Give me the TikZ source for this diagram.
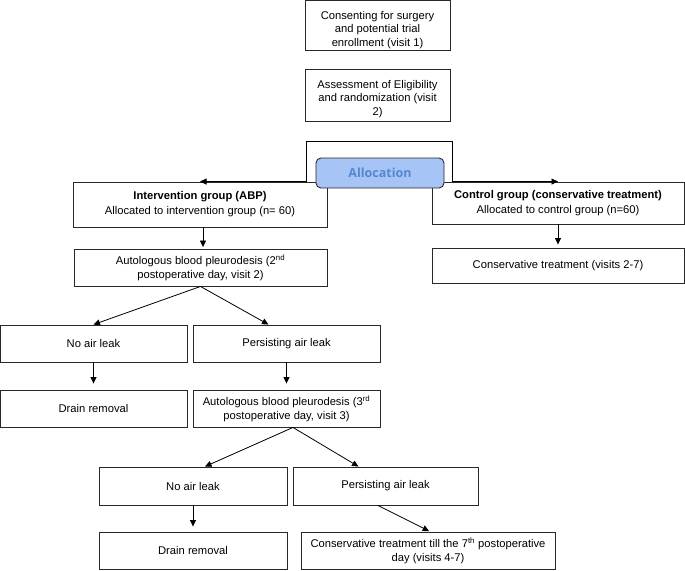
\documentclass[tikz,border=0pt]{standalone}
\usepackage{fontspec}
\setmainfont{Liberation Sans}
\newfontfamily\allocfont{Open Sans}
\usetikzlibrary{arrows.meta,positioning}
\definecolor{allocfill}{RGB}{166,196,245}
\definecolor{alloctext}{RGB}{85,135,208}
\definecolor{edgecol}{RGB}{40,40,40}
\tikzset{
  boxfont/.style={inner sep=0pt, align=center, font=\fontsize{11.2}{13.7}\selectfont},
  box/.style={draw=edgecol, line width=0.9pt, rectangle, boxfont},
  arr/.style={draw=black, line width=0.8pt, -{Triangle[length=6.5pt,width=6pt]}},
  arrboth/.style={draw=black, line width=0.8pt, {Triangle[length=6.5pt,width=6pt]}-{Triangle[length=6.5pt,width=6pt]}},
  allocbox/.style={draw=edgecol, line width=0.9pt, fill=allocfill, rounded corners=5pt,
    inner sep=0pt, text=alloctext, font=\allocfont\bfseries\fontsize{12.5}{14}\selectfont}
}
\begin{document}
\begin{tikzpicture}[x=1pt,y=-1pt]
\useasboundingbox (0,0) rectangle (685,570);

\node[box, minimum width=145pt, minimum height=50pt,
  label={[boxfont, name=b1text, yshift=-4.5pt]center:{Consenting for surgery\\and potential trial\\enrollment (visit 1)}}]
  (b1) at (377.5,25.5) {};
\node[box, minimum width=145pt, minimum height=52pt,
  label={[boxfont, name=b2text, yshift=-4pt]center:{Assessment of Eligibility\\and randomization (visit\\2)}}]
  (b2) at (377.5,95) {};

\node[box, minimum width=254pt, minimum height=45pt] (interv) at (200,204.5)
  {\textbf{Intervention group (ABP)}\\[1.5pt]Allocated to intervention group (n= 60)};
\node[box, minimum width=252pt, minimum height=42pt] (control) at (558,203)
  {\textbf{Control group (conservative treatment)}\\[1pt]Allocated to control group (n=60)};

\coordinate (aL) at (306,141);
\coordinate (aR) at (452,141);
\draw[arrboth] (interv.north) -- (aL |- interv.north) -- (aL) -- (aR) -- (aR |- control.north) -- (control.north);

\node[allocbox, minimum width=128pt, minimum height=30pt] (alloc) at (380,173) {Allocation};

\node[box, minimum width=253pt, minimum height=37pt] (abp1) at (200.5,267.5)
  {Autologous blood pleurodesis (2\textsuperscript{nd}\\postoperative day, visit 2)};
\node[box, minimum width=252pt, minimum height=35pt] (cons) at (558,265.5)
  {Conservative treatment (visits 2-7)};

\node[box, minimum width=187pt, minimum height=37pt] (noleak1) at (93.5,343.5) {No air leak};
\node[box, minimum width=187pt, minimum height=37pt] (persist1) at (286.5,343.5) {Persisting air leak};
\node[box, minimum width=187pt, minimum height=37pt] (drain1) at (93.5,408.5) {Drain removal};
\node[box, minimum width=187pt, minimum height=37pt] (abp2) at (286.5,408.5)
  {Autologous blood pleurodesis (3\textsuperscript{rd}\\postoperative day, visit 3)};

\node[box, minimum width=188pt, minimum height=38pt] (noleak2) at (193,486) {No air leak};
\node[box, minimum width=185pt, minimum height=38pt] (persist2) at (385.5,486) {Persisting air leak};
\node[box, minimum width=188pt, minimum height=37pt] (drain2) at (193,550.5) {Drain removal};
\node[box, minimum width=254pt, minimum height=37pt] (constill) at (428,550.5)
  {Conservative treatment till the 7\textsuperscript{th} postoperative\\day (visits 4-7)};

\draw[arr, shorten >=1.5pt] ([xshift=3pt]interv.south) -- ([xshift=2.5pt]abp1.north);
\draw[arr, shorten >=3pt] (control.south) -- (cons.north);

\draw[arr] (abp1.south) -- (noleak1.north);
\draw[arr] (abp1.south) -- ([xshift=-18pt]persist1.north);
\draw[arr, shorten >=6pt] (noleak1.south) -- (drain1.north);
\draw[arr, shorten >=6pt] (persist1.south) -- (abp2.north);

\draw[arr] ([xshift=6.5pt]abp2.south) -- ([xshift=12pt]noleak2.north);
\draw[arr] ([xshift=6.5pt]abp2.south) -- ([xshift=-27pt]persist2.north);
\draw[arr, shorten >=5pt] (noleak2.south) -- (drain2.north);
\draw[arr, shorten >=1pt] ([xshift=-7.5pt]persist2.south) -- ([xshift=2pt]constill.north);
\end{tikzpicture}
\end{document}
